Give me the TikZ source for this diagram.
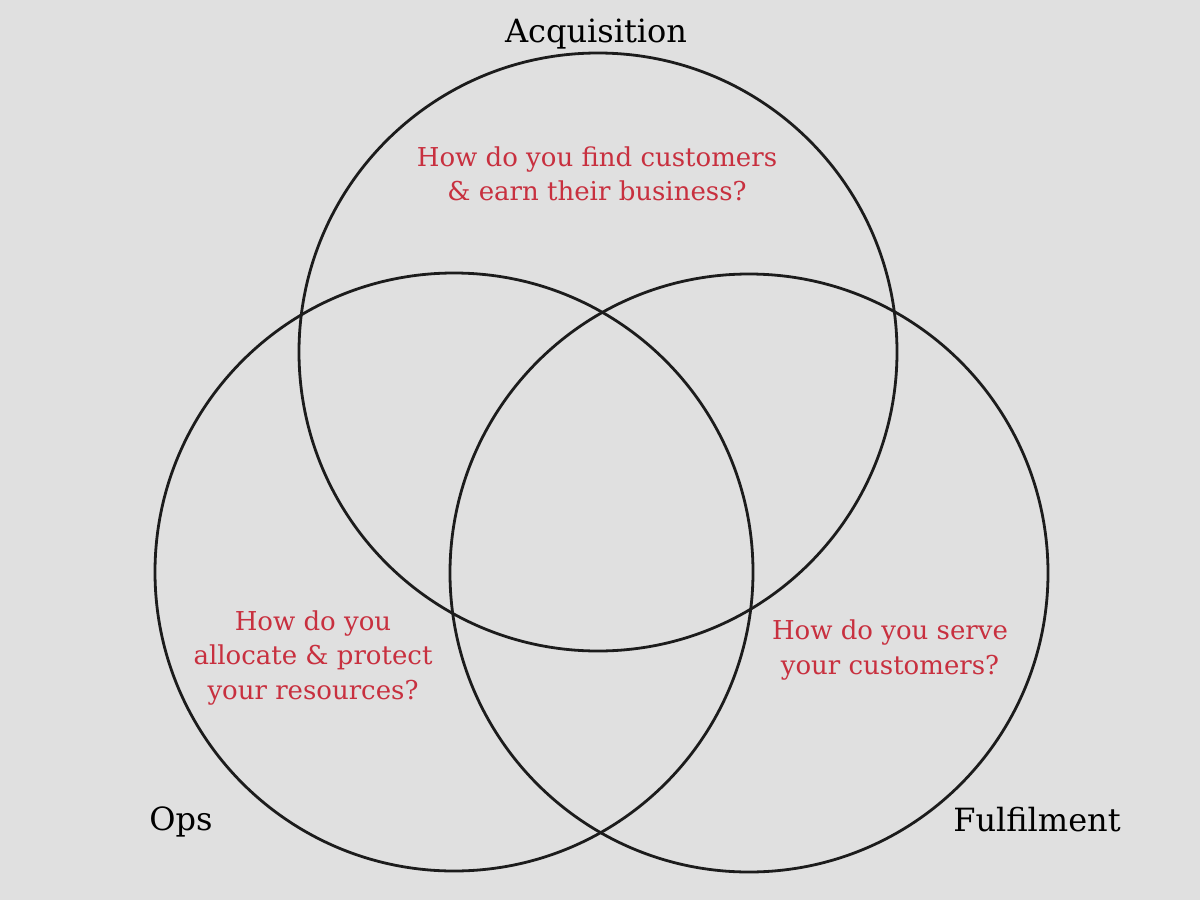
\documentclass[tikz,border=0pt]{standalone}
\usepackage{fontspec}
\setmainfont{DejaVu Serif}
\definecolor{bg}{HTML}{E0E0E0}
\definecolor{ink}{HTML}{1C1C1C}
\definecolor{q}{HTML}{C8303F}
\begin{document}
\begin{tikzpicture}[x=1pt,y=-1pt,
  ring/.style={draw=ink,line width=2.8pt},
  title/.style={text=black,font=\fontsize{32}{36}\selectfont,inner sep=0pt},
  question/.style={text=q,font=\fontsize{26}{34.5}\selectfont,align=center,inner sep=0pt}]
\fill[bg] (0,0) rectangle (1200,900);
\useasboundingbox (0,0) rectangle (1200,900);
\node[ring,circle,minimum size=598pt,inner sep=0pt] (acq) at (598,352) {};
\node[ring,circle,minimum size=598pt,inner sep=0pt] (ops) at (454,572) {};
\node[ring,circle,minimum size=598pt,inner sep=0pt] (ful) at (749,573) {};
\node[title] (tacq) at (596,34) {Acquisition};
\node[title] (tops) at (181,822) {Ops};
\node[title] (tful) at (1037,820) {Fulfilment};
\node[question] (qacq) at (597,174) {How do you find customers\\ \& earn their business?};
\node[question] (qops) at (313,658) {How do you\\ allocate \& protect\\ your resources?};
\node[question] (qful) at (890,650) {How do you serve\\ your customers?};
\end{tikzpicture}
\end{document}
